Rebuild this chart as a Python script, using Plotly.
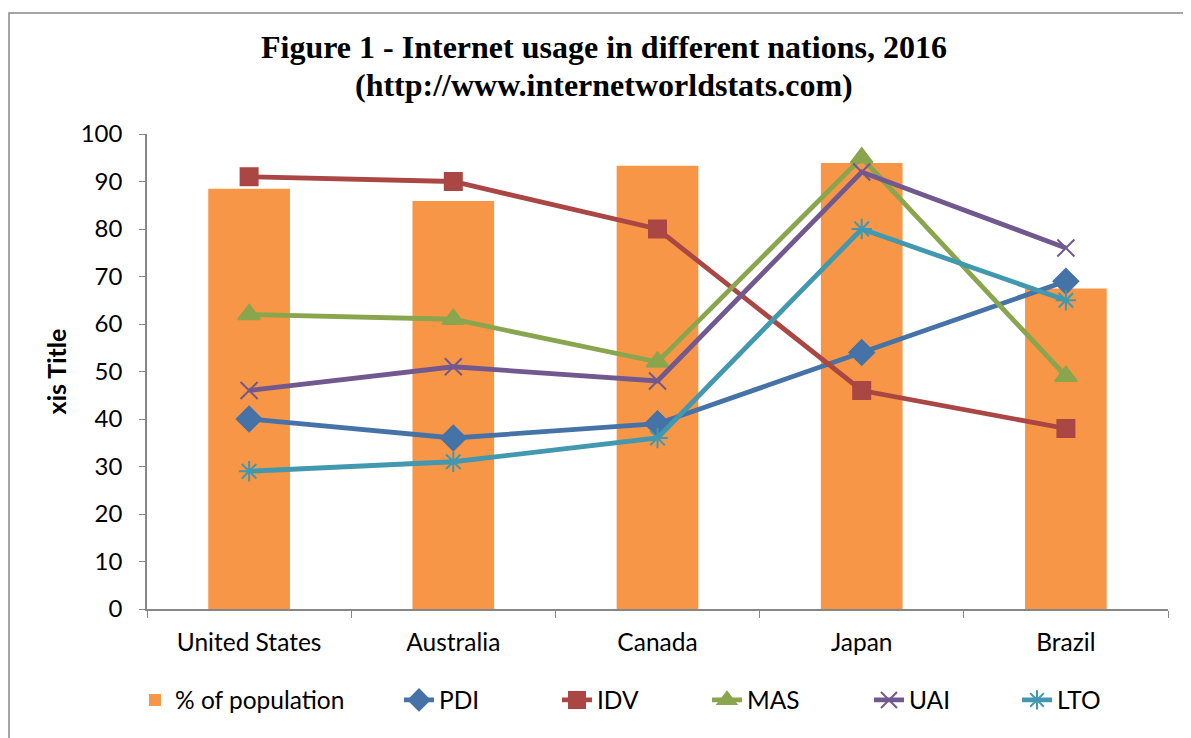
import plotly.graph_objects as go

countries = ["United States", "Australia", "Canada", "Japan", "Brazil"]
pop_pct = [88.5, 85.9, 93.3, 93.9, 67.5]
pdi = [40, 36, 39, 54, 69]
idv = [91, 90, 80, 46, 38]
mas = [62, 61, 52, 95, 49]
uai = [46, 51, 48, 92, 76]
lto = [29, 31, 36, 80, 65]
y_ticks = [0, 10, 20, 30, 40, 50, 60, 70, 80, 90, 100]
title_line1 = "Figure 1 - Internet usage in different nations, 2016"
title_line2 = "(http://www.internetworldstats.com)"

# page has an 8px body margin; plot area placed accordingly
L, T, R, B = 139, 126, 23, 129
PW, PH = 1021, 475
W, H = L + PW + R, T + PH + B

def px_x(p):  # page pixel -> paper x
    return (p - 147) / PW

def px_y(p):  # page pixel -> paper y
    return (609 - p) / PH

fig = go.Figure()
fig.add_trace(go.Bar(x=countries, y=pop_pct, name="% of population",
                     marker=dict(color="#F79646", line=dict(width=0)),
                     legend="legend"))

series = [
    ("PDI", pdi, "#4572A7", "diamond", 19, "legend2"),
    ("IDV", idv, "#AA4643", "square", 17, "legend3"),
    ("MAS", mas, "#89A54E", "triangle-up", 19, "legend4"),
    ("UAI", uai, "#71588F", "x-thin-open", 17, "legend5"),
    ("LTO", lto, "#4198AF", "asterisk-open", 17, "legend6"),
]
for name, vals, col, sym, sz, lg in series:
    fig.add_trace(go.Scatter(
        x=countries, y=vals, name=name, mode="lines+markers",
        line=dict(color=col, width=4.8),
        marker=dict(symbol=sym, size=sz, color=col,
                    line=dict(color=col, width=2)),
        legend=lg,
    ))

text_starts = [176, 440, 598, 748, 910, 1058]
legend_names = ["legend", "legend2", "legend3", "legend4", "legend5", "legend6"]
legend_cfg = {}
for lg, ts in zip(legend_names, text_starts):
    legend_cfg[lg] = dict(orientation="h", x=px_x(ts - 41), xanchor="left",
                          y=-91 / PH, yanchor="middle", font=dict(size=24.5),
                          bgcolor="rgba(0,0,0,0)")

title_font = dict(family="Liberation Serif, Times New Roman, serif", size=32, color="#000000")

fig.update_layout(
    width=W, height=H,
    paper_bgcolor="white", plot_bgcolor="white",
    margin=dict(l=L, r=R, t=T, b=B),
    bargap=0.6,
    font=dict(family="Lato, Open Sans, sans-serif", size=24, color="#000000"),
    showlegend=True,
    xaxis=dict(range=[-0.5, 4.5], showline=True, linecolor="#868686", linewidth=1.5,
               ticks="outside", tickson="boundaries", ticklen=7, tickcolor="#868686",
               showgrid=False, zeroline=False, tickfont=dict(size=24.5),
               ticklabelstandoff=11),
    yaxis=dict(range=[0, 100], tickvals=y_ticks, showline=True, linecolor="#868686",
               linewidth=1.5, ticks="outside", ticklen=6, tickcolor="#868686",
               showgrid=False, zeroline=False, tickfont=dict(size=24),
               ticklabelstandoff=12,
               title=dict(text="<b>xis Title</b>", font=dict(size=25), standoff=7)),
    annotations=[
        dict(text="<b>" + title_line1 + "</b>", xref="paper", yref="paper",
             x=px_x(603.5), y=px_y(47), xanchor="center", yanchor="middle",
             showarrow=False, font=title_font),
        dict(text="<b>" + title_line2 + "</b>", xref="paper", yref="paper",
             x=px_x(603.5), y=px_y(85), xanchor="center", yanchor="middle",
             showarrow=False, font=title_font),
    ],
    shapes=[dict(type="rect", xref="paper", yref="paper",
                 x0=px_x(9), x1=px_x(1184), y0=-140 / PH, y1=1 + 121 / PH,
                 line=dict(color="#888888", width=1.5), fillcolor="rgba(0,0,0,0)")],
    **legend_cfg,
)

fig.write_html("out.html")
